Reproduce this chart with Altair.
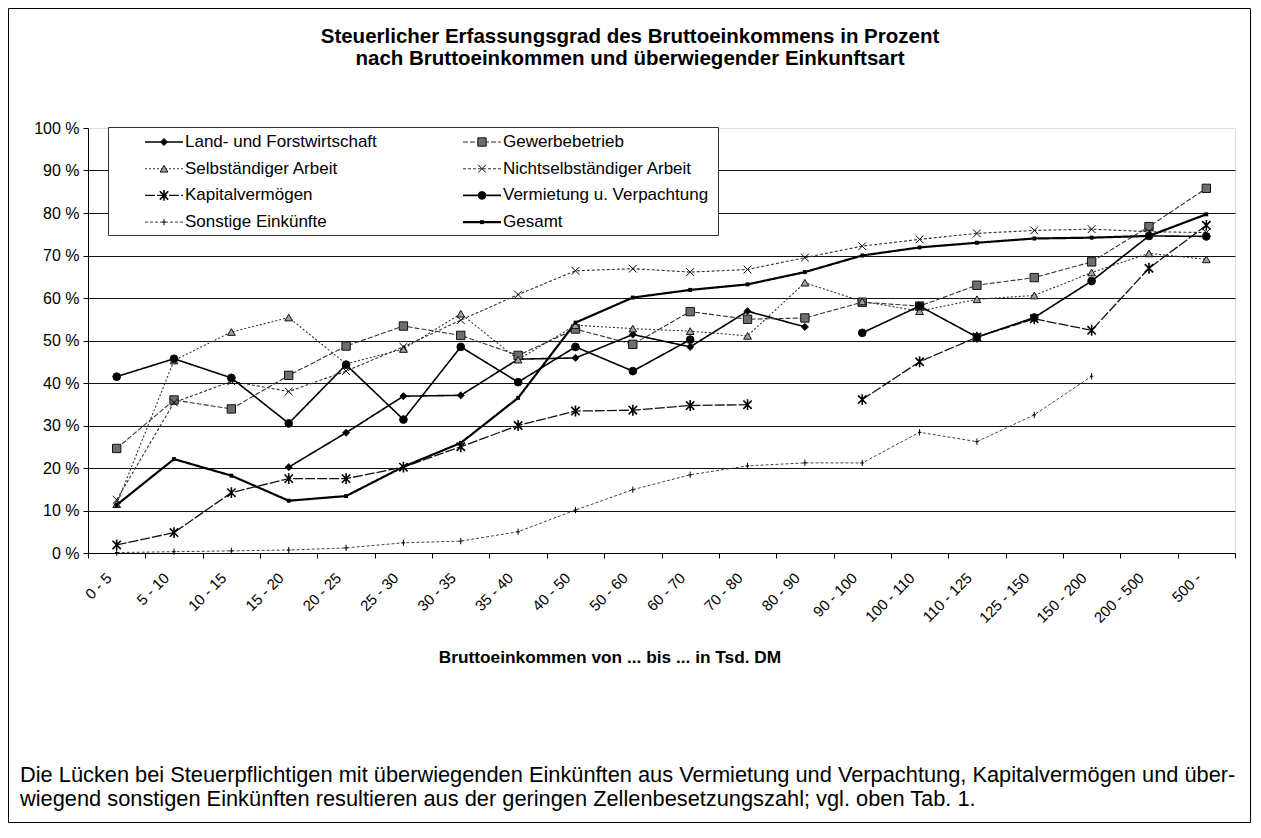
import altair as alt
import pandas as pd

categories = ["0 - 5", "5 - 10", "10 - 15", "15 - 20", "20 - 25", "25 - 30", "30 - 35",
              "35 - 40", "40 - 50", "50 - 60", "60 - 70", "70 - 80", "80 - 90", "90 - 100",
              "100 - 110", "110 - 125", "125 - 150", "150 - 200", "200 - 500", "500 -"]

N = None
land = [N, N, N, 20.2, 28.3, 36.9, 37.1, 45.6, 45.9, 51.4, 48.5, 56.9, 53.2, N, N, N, N, N, N, N]
gewerbe = [24.6, 36.0, 33.9, 41.8, 48.7, 53.4, 51.2, 46.5, 52.7, 49.1, 56.8, 55.0, 55.3, 59.0,
           58.1, 63.0, 64.8, 68.5, 76.8, 85.8]
selbst = [11.5, 45.3, 52.0, 55.4, 44.5, 48.0, 56.3, 45.5, 53.6, 52.8, 52.2, 51.1, 63.6, 59.2,
          56.9, 59.7, 60.6, 66.0, 70.5, 69.1]
nicht = [12.5, 35.4, 40.4, 38.0, 42.8, 48.5, 54.8, 60.8, 66.4, 66.9, 66.1, 66.7, 69.5, 72.2,
         73.8, 75.2, 75.9, 76.2, 75.6, 75.4]
kapital = [1.9, 4.8, 14.2, 17.5, 17.5, 20.2, 25.0, 30.0, 33.4, 33.6, 34.7, 34.9, N, 36.1,
           45.0, 50.8, 55.1, 52.4, 67.0, 77.1]
vermietung = [41.5, 45.7, 41.2, 30.5, 44.3, 31.4, 48.5, 40.2, 48.5, 42.8, 50.2, N, N, 51.8,
              58.1, 50.8, 55.4, 64.0, 74.6, 74.5]
sonstige = [0.1, 0.3, 0.5, 0.7, 1.2, 2.4, 2.8, 5.0, 10.1, 14.9, 18.4, 20.5, 21.2, 21.2,
            28.4, 26.2, 32.5, 41.6, N, N]
gesamt = [11.3, 22.1, 18.2, 12.3, 13.4, 20.3, 25.9, 36.5, 54.2, 60.1, 61.9, 63.2, 66.1, 70.0,
          71.9, 73.0, 74.0, 74.2, 74.6, 79.7]

series_names = ["Land- und Forstwirtschaft", "Gewerbebetrieb",
                "Selbständiger Arbeit", "Nichtselbständiger Arbeit",
                "Kapitalvermögen", "Vermietung u. Verpachtung",
                "Sonstige Einkünfte", "Gesamt"]
series_values = [land, gewerbe, selbst, nicht, kapital, vermietung, sonstige, gesamt]

title_lines = ["Steuerlicher Erfassungsgrad des Bruttoeinkommens in Prozent",
               "nach Bruttoeinkommen und überwiegender Einkunftsart"]
x_title = "Bruttoeinkommen von ... bis ... in Tsd. DM"
footnote = ["Die Lücken bei Steuerpflichtigen mit überwiegenden Einkünften aus Vermietung und Verpachtung, Kapitalvermögen und über-",
            "wiegend sonstigen Einkünften resultieren aus der geringen Zellenbesetzungszahl; vgl. oben Tab. 1."]

X_PATH = "M-1,-1L1,1M-1,1L1,-1"
AST_PATH = "M-1,-1L1,1M-1,1L1,-1M0,-1.3L0,1.3"
PLUS_PATH = "M0,-1L0,1M-0.55,0L0.55,0"
DASH_PATH = "M-1,0L1,0"

styles = [
    dict(dash=[1, 0], lw=1.6, col="#000", shape="diamond", filled=True, fill="#000", size=50, sw=1),
    dict(dash=[5, 2], lw=1.1, col="#333", shape="square", filled=True, fill="#6e6e6e", size=70, sw=1),
    dict(dash=[2, 2], lw=1.1, col="#333", shape="triangle-up", filled=True, fill="#a0a0a0", size=60, sw=1),
    dict(dash=[3, 2], lw=1.1, col="#333", shape=X_PATH, filled=False, fill=None, size=60, sw=1),
    dict(dash=[10, 2], lw=1.3, col="#111", shape=AST_PATH, filled=False, fill=None, size=70, sw=1.6),
    dict(dash=[1, 0], lw=1.6, col="#000", shape="circle", filled=True, fill="#000", size=60, sw=1),
    dict(dash=[3, 2], lw=1.0, col="#444", shape=PLUS_PATH, filled=False, fill=None, size=40, sw=1),
    dict(dash=[1, 0], lw=2.2, col="#000", shape=DASH_PATH, filled=False, fill=None, size=14, sw=4),
]


def segments(name, vals):
    out = []
    part = 0
    started = False
    for c, v in zip(categories, vals):
        if v is None:
            if started:
                part += 1
                started = False
            continue
        started = True
        out.append({"cat": c, "value": v, "series": name, "part": f"{name}-{part}"})
    return pd.DataFrame(out)


W, H = 1147, 425
PAD_R, PAD_B = 16, 270
FONT = "Liberation Sans"

x_axis = alt.Axis(title=None, labelAngle=-45, labelAlign="right", labelBaseline="middle",
                  labelFontSize=15, labelPadding=17, labelOffset=-8, tickBand="extent",
                  tickSize=5, tickColor="#000", domainColor="#000", grid=False,
                  labelColor="#000", labelFont=FONT)
y_axis = alt.Axis(title=None, values=list(range(0, 101, 10)), labelExpr="datum.value + ' %'",
                  labelFontSize=16, labelPadding=4, tickSize=5, tickColor="#000",
                  domainColor="#000", grid=True, gridColor="#111", gridWidth=1,
                  gridOpacity={"condition": {"test": "datum.value === 100", "value": 0}, "value": 1},
                  labelColor="#000", labelFont=FONT)

x_enc = alt.X("cat:N", sort=categories,
              scale=alt.Scale(type="band", domain=categories, paddingInner=0, paddingOuter=0),
              bandPosition=0.5, axis=x_axis)
y_enc = alt.Y("value:Q", scale=alt.Scale(domain=[0, 100], nice=False), axis=y_axis)

line_layers = []
point_layers = []
for name, vals, st in zip(series_names, series_values, styles):
    df = segments(name, vals)
    line_layers.append(
        alt.Chart(df).mark_line(strokeDash=st["dash"], strokeWidth=st["lw"], color=st["col"])
        .encode(x=x_enc, y=y_enc, detail="part:N")
    )
    pk = dict(shape=st["shape"], size=st["size"], strokeWidth=st["sw"], opacity=1)
    if st["filled"]:
        pk.update(filled=True, fill=st["fill"], stroke="#111")
    else:
        pk.update(filled=False, stroke="#000")
    point_layers.append(alt.Chart(df).mark_point(**pk).encode(x=x_enc, y=y_enc))

one = pd.DataFrame({"k": [0]})

# legend box
legend_layers = [
    alt.Chart(one).mark_rect(fill="white", stroke="#333", strokeWidth=1).encode(
        x=alt.value(20.5), x2=alt.value(630.5), y=alt.value(-0.5), y2=alt.value(107.5))
]
for i, (name, st) in enumerate(zip(series_names, styles)):
    col, row = i % 2, i // 2
    sx = 57 + col * 318
    yy = 14 + row * 26.7
    legend_layers.append(
        alt.Chart(one).mark_rule(strokeDash=st["dash"], strokeWidth=st["lw"], color=st["col"])
        .encode(x=alt.value(sx), x2=alt.value(sx + 38), y=alt.value(yy)))
    pk = dict(shape=st["shape"], size=st["size"], strokeWidth=st["sw"], opacity=1)
    if st["filled"]:
        pk.update(filled=True, fill=st["fill"], stroke="#111")
    else:
        pk.update(filled=False, stroke="#000")
    legend_layers.append(
        alt.Chart(one).mark_point(**pk).encode(x=alt.value(sx + 19), y=alt.value(yy)))
    legend_layers.append(
        alt.Chart(one).mark_text(align="left", baseline="middle", fontSize=17, font=FONT, color="#000")
        .encode(x=alt.value(sx + 40), y=alt.value(yy), text=alt.value(name)))

# texts
text_layers = []
for j, t in enumerate(title_lines):
    text_layers.append(
        alt.Chart(one).mark_text(align="center", baseline="middle", fontSize=20.5, fontWeight="bold",
                                 font=FONT, color="#000")
        .encode(x=alt.value(542), y=alt.value(-91 + j * 22), text=alt.value(t)))
text_layers.append(
    alt.Chart(one).mark_text(align="center", baseline="middle", fontSize=17.3, fontWeight="bold",
                             font=FONT, color="#000")
    .encode(x=alt.value(522), y=alt.value(530), text=alt.value(x_title)))
for j, t in enumerate(footnote):
    text_layers.append(
        alt.Chart(one).mark_text(align="left", baseline="middle", fontSize=21.8, font=FONT, color="#000")
        .encode(x=alt.value(-68), y=alt.value(647 + j * 24), text=alt.value(t)))

frame = alt.Chart(one).mark_rect(fillOpacity=0, stroke="#000", strokeWidth=1).encode(
    x=alt.value(-79.5), x2=alt.value(W + PAD_R - 0.5), y=alt.value(-119.5), y2=alt.value(H + PAD_B - 0.5))

chart = alt.layer(*line_layers, *point_layers, *legend_layers, *text_layers, frame).properties(
    width=W, height=H,
    padding={"left": 80, "top": 120, "right": PAD_R, "bottom": PAD_B},
    autosize=alt.AutoSizeParams(type="none"),
    background="white",
).configure_view(stroke="#000", strokeDash=[1, 2], strokeWidth=1).configure(font=FONT)

chart.save("out.html", embed_options={"renderer": "svg", "actions": False})
